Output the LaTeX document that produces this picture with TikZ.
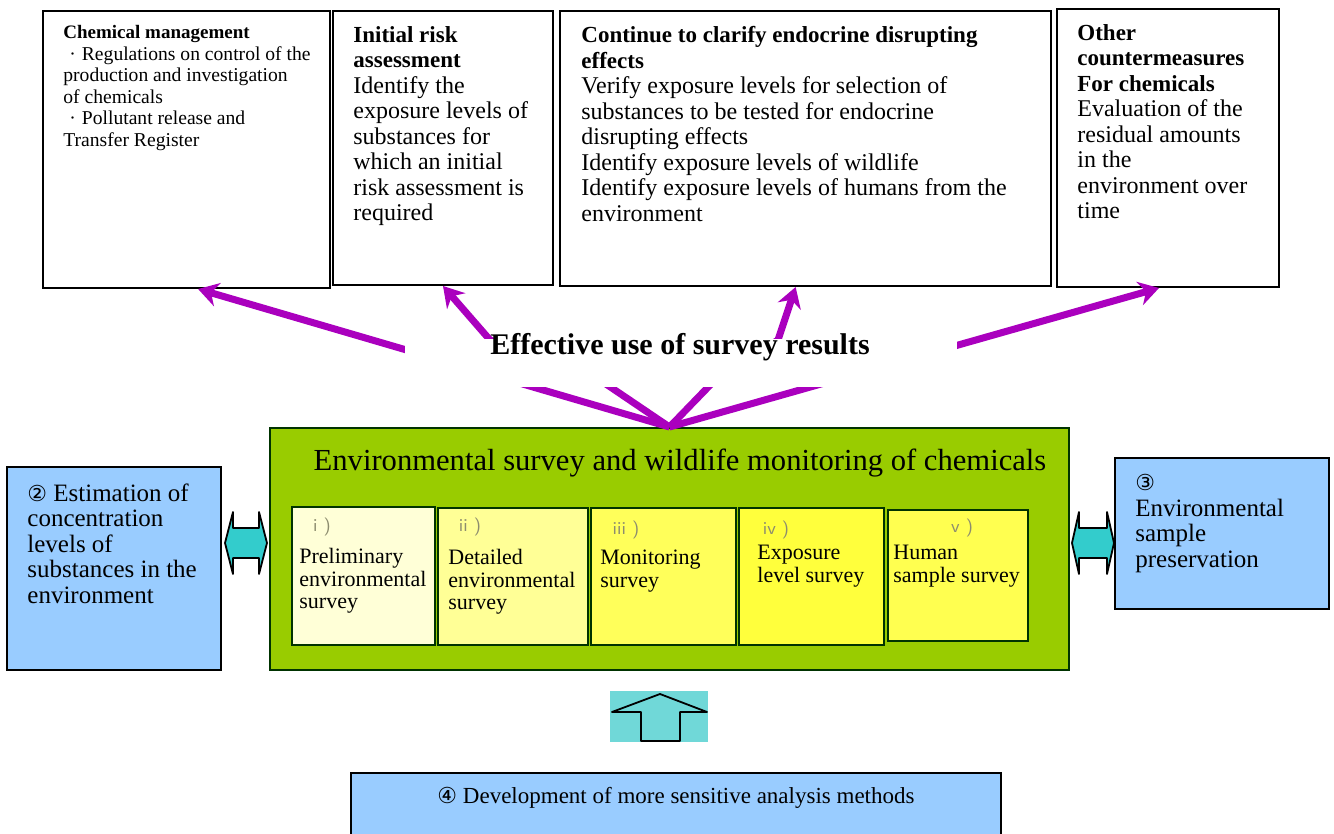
\documentclass[tikz,border=0pt]{standalone}
\usepackage{fontspec}
\setmainfont{Liberation Serif}
\newfontfamily\symfont{DejaVu Sans}
\usetikzlibrary{calc,fit,arrows.meta}

\definecolor{skyblue}{RGB}{153,204,255}
\definecolor{leafgreen}{RGB}{153,204,0}
\definecolor{usepurple}{RGB}{170,0,190}
\definecolor{linkcyan}{RGB}{51,204,204}
\definecolor{upcyan}{RGB}{112,216,216}
\definecolor{numgray}{RGB}{140,140,110}
\definecolor{stepA}{RGB}{255,255,215}
\definecolor{stepB}{RGB}{255,255,150}
\definecolor{stepC}{RGB}{255,255,90}
\definecolor{stepD}{RGB}{255,255,60}
\definecolor{stepE}{RGB}{255,255,80}

\newcommand{\hd}[1]{{\fontsize{11.5}{12.75}\selectfont\bfseries #1}}
\newcommand{\circnum}[1]{{\symfont\fontsize{11}{12}\selectfont #1}}

\tikzset{
  frame/.style={draw=black, line width=1pt, inner sep=0pt},
  topbox/.style={frame, fill=white},
  bluebox/.style={frame, fill=skyblue},
  survbox/.style={draw=black!80!green, line width=1pt, inner sep=0pt},
  bodytext/.style={anchor=north west, inner sep=0pt, align=left, font=\fontsize{12}{12.75}\selectfont},
  smalltext/.style={anchor=north west, inner sep=0pt, align=left, font=\fontsize{9.8}{10.75}\selectfont},
  bluetext/.style={anchor=north west, inner sep=0pt, align=left, font=\fontsize{12.5}{12.75}\selectfont},
  steptext/.style={anchor=north west, inner sep=0pt, align=left, font=\fontsize{11}{11.25}\selectfont},
  numtext/.style={text=numgray, inner sep=0pt, font=\sffamily\fontsize{9}{10}\selectfont},
  usearrow/.style={draw=usepurple, line width=3.5pt, line join=round, -{Stealth[length=10pt,width=12pt]}},
  linkarrow/.style={fill=linkcyan, draw=black, line width=0.9pt, line join=round},
}

\begin{document}
\begin{tikzpicture}[x=0.5pt,y=-0.5pt]
	\useasboundingbox (0,0) rectangle (1334,834);
	
	%%% top row: where the results are used
	\node[topbox, fit={(43,11) (330,288)}] (chem) {};
	\node[topbox, fit={(333,11) (553,285)}] (risk) {};
	\node[topbox, fit={(560,11) (1051,286)}] (endo) {};
	\node[topbox, fit={(1057,9) (1279,287)}] (other) {};
	
	\node[smalltext] (chemtxt) at (63,25) {\textbf{\fontsize{9.5}{10.75}\selectfont Chemical management}\\
		\hspace*{3pt}·\hspace{3pt}Regulations on control of the\\
		production and investigation\\
		of chemicals\\
		\hspace*{3pt}·\hspace{3pt}Pollutant release and\\
		Transfer Register};
	\node[bodytext] (risktxt) at (353,26) {\hd{Initial risk}\\ \hd{assessment}\\
		Identify the\\ exposure levels of\\ substances for\\ which an initial\\
		risk assessment is\\ required};
	\node[bodytext] (endotxt) at (581,26) {\hd{Continue to clarify endocrine disrupting}\\ \hd{effects}\\
		Verify exposure levels for selection of\\
		substances to be tested for endocrine\\
		disrupting effects\\
		Identify exposure levels of wildlife\\
		Identify exposure levels of humans from the\\
		environment};
	\node[bodytext] (othertxt) at (1077,24) {\hd{Other}\\ \hd{countermeasures}\\ \hd{For chemicals}\\
		Evaluation of the\\ residual amounts\\ in the\\ environment over\\ time};
	
	%%% survey block
	\node[fit={(270,428) (1069,670)}, inner sep=0pt, fill=leafgreen, draw=black!80!green, line width=1pt] (survey) {};
	\node[font=\fontsize{15.3}{17}\selectfont, inner sep=0pt] (surveytitle) at (680,463)
		{Environmental survey and wildlife monitoring of chemicals};
	
	\node[survbox, fill=stepA, fit={(292,507) (435,645)}] (step1) {};
	\node[survbox, fill=stepB, fit={(438,508) (588,645)}] (step2) {};
	\node[survbox, fill=stepC, fit={(591,508) (736,645)}] (step3) {};
	\node[survbox, fill=stepD, fit={(739,508) (884,645)}] (step4) {};
	\node[survbox, fill=stepE, fit={(888,510) (1028,641)}] (step5) {};
	
	\node[numtext] (num1) at (322,527) {i )};
	\node[numtext] (num2) at (470,527) {ii )};
	\node[numtext] (num3) at (626,530) {iii )};
	\node[numtext] (num4) at (776,530) {iv )};
	\node[numtext] (num5) at (962,528) {v )};
	
	\node[steptext] (step1txt) at (299,548) {Preliminary\\ environmental\\ survey};
	\node[steptext] (step2txt) at (448,549) {Detailed\\ environmental\\ survey};
	\node[steptext] (step3txt) at (600,550) {Monitoring\\ survey};
	\node[steptext] (step4txt) at (757,545) {Exposure\\ level survey};
	\node[steptext] (step5txt) at (893,545) {Human\\ sample survey};
	
	%%% results go up to the four boxes
	\coordinate (hub) at (survey.north);
	\coordinate (riskbend) at (490,340);
	\coordinate (endobend) at (778,340);
	\draw[usearrow] (hub) -- ($(chem.south west)!0.54!(chem.south east)$);
	\draw[usearrow] (hub) -- (600,380) -- (riskbend) -- (risk.south);
	\draw[usearrow] (hub) -- (715,380) -- (endobend) -- ($(endo.south west)!0.48!(endo.south east)$);
	\draw[usearrow] (hub) -- ($(other.south west)!0.46!(other.south east)$);
	
	\fill[white] (405,339) rectangle (957,387);
	\node[font=\fontsize{15}{17}\selectfont\bfseries, inner sep=0pt] (results) at (680,347) {Effective use of survey results};
	
	%%% side boxes
	\node[bluebox, fit={(7,467) (221,670)}] (estim) {};
	\node[bluetext] (estimtxt) at (27,483) {\circnum{②} Estimation of\\ concentration\\ levels of\\ substances in the\\ environment};
	
	\node[bluebox, fit={(1115,458) (1329,609)}] (preserve) {};
	\node[bluetext] (preservetxt) at (1135,474) {\circnum{③}\\ Environmental\\ sample\\ preservation};
	
	\draw[linkarrow, shift={(246,543)}] (-21,0) -- (-13,-31) -- (-13,-15) -- (13,-15) -- (13,-31)
		-- (21,0) -- (13,31) -- (13,15) -- (-13,15) -- (-13,31) -- cycle;
	\draw[linkarrow, shift={(1093,543)}] (-21,0) -- (-14,-31) -- (-14,-15) -- (14,-15) -- (14,-31)
		-- (21,0) -- (14,31) -- (14,15) -- (-14,15) -- (-14,31) -- cycle;
	
	%%% analysis methods feed the survey
	\fill[upcyan] (610,691) rectangle (708,742);
	\draw[black, line width=0.9pt, line join=round] (641,741) -- (641,712) -- (612,712) -- (660,694)
		-- (707,712) -- (680,712) -- (680,741) -- cycle;
	
	\node[bluebox, fit={(351,773) (1001,850)}] (methods) {};
	\node[font=\fontsize{11.5}{13}\selectfont, inner sep=0pt] (methodstxt) at (676,798)
		{\circnum{④} Development of more sensitive analysis methods};
\end{tikzpicture}
\end{document}
